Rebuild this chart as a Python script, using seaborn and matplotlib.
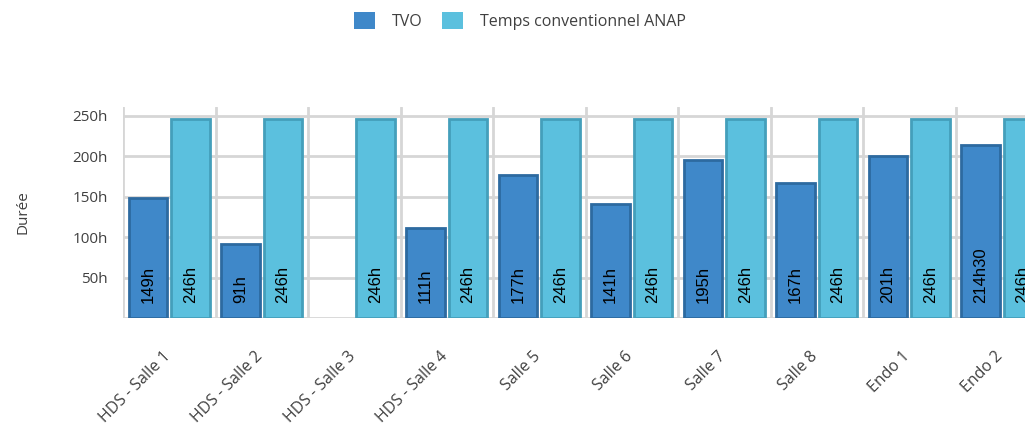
import numpy as np
import pandas as pd
import matplotlib
matplotlib.use('Agg')
import matplotlib.pyplot as plt
import matplotlib.transforms as mtransforms
import seaborn as sns
from matplotlib.patches import Patch

salles = ['HDS - Salle 1', 'HDS - Salle 2', 'HDS - Salle 3', 'HDS - Salle 4',
          'Salle 5', 'Salle 6', 'Salle 7', 'Salle 8', 'Endo 1', 'Endo 2']
tvo = [149, 91, np.nan, 111, 177, 141, 195, 167, 201, 214.5]
tvo_labels = ['149h', '91h', '', '111h', '177h', '141h', '195h', '167h', '201h', '214h30']
anap = [246] * 10
anap_labels = ['246h'] * 10
series = ['TVO', 'Temps conventionnel ANAP']

col_tvo = '#3f88c9'
col_anap = '#5bc0de'
edge_tvo = '#2d6aa0'
edge_anap = '#449fbb'
grid_col = '#d6d6d6'
text_col = '#404040'

df = pd.DataFrame({
    'salle': salles * 2,
    'serie': [series[0]] * 10 + [series[1]] * 10,
    'duree': tvo + anap,
})

sns.set_style('white')
plt.rcParams['font.family'] = ['Open Sans', 'DejaVu Sans']

fig = plt.figure(figsize=(10.25, 4.25), dpi=100)
ax = fig.add_axes([123 / 1025, 107 / 425, 925 / 1025, 211 / 425])

sns.barplot(data=df, x='salle', y='duree', hue='serie', order=salles,
            hue_order=series, palette=[col_tvo, col_anap], saturation=1,
            width=0.92, gap=0.09, linewidth=2, ax=ax, legend=False,
            errorbar=None, zorder=3)

# contours plus sombres
for cont, ec in zip(ax.containers, [edge_tvo, edge_anap]):
    for bar in cont:
        bar.set_edgecolor(ec)

# étiquettes verticales en bas des barres
labels_by_serie = [tvo_labels, anap_labels]
for k, cont in enumerate(ax.containers):
    for bar in cont:
        h = bar.get_height()
        if not np.isfinite(h) or h == 0:
            continue
        i = int(round(bar.get_x() + bar.get_width() / 2))
        ax.text(bar.get_x() + bar.get_width() / 2, 19, labels_by_serie[k][i],
                rotation=90, ha='center', va='bottom', fontsize=12,
                family=['Liberation Sans', 'DejaVu Sans'], color='black',
                zorder=5)

ax.set_xlim(-0.5, 9.5)
ax.set_ylim(0, 261)
ax.set_yticks([0, 50, 100, 150, 200, 250])
ax.set_yticklabels(['', '50h', '100h', '150h', '200h', '250h'])
ax.set_xticks(np.arange(-0.5, 10, 1), minor=True)
ax.grid(axis='y', which='major', color=grid_col, linewidth=2, zorder=0)
ax.grid(axis='x', which='minor', color=grid_col, linewidth=2, zorder=0)
ax.grid(axis='x', which='major', visible=False)
for s in ax.spines.values():
    s.set_visible(False)

ax.tick_params(axis='y', length=7, width=2, color=grid_col, labelsize=11,
               labelcolor=text_col, pad=4)
ax.tick_params(axis='x', which='major', length=0, labelsize=11.5,
               labelcolor=text_col, pad=22)
ax.tick_params(axis='x', which='minor', length=0)
shift = mtransforms.ScaledTranslation(-7 / 100, 0, fig.dpi_scale_trans)
for lab in ax.get_xticklabels():
    lab.set_rotation(45)
    lab.set_ha('right')
    lab.set_rotation_mode('anchor')
    lab.set_transform(lab.get_transform() + shift)

ax.set_xlabel('')
ax.set_ylabel('Durée', fontsize=11, color=text_col, labelpad=30)

handles = [Patch(facecolor=col_tvo, edgecolor='none'),
           Patch(facecolor=col_anap, edgecolor='none')]
fig.legend(handles, series, loc='center', bbox_to_anchor=(520 / 1025, 1 - 21 / 425),
           ncol=2, frameon=False, fontsize=11.5, handlelength=1.3, handleheight=1.3,
           columnspacing=1.25, handletextpad=1.05, labelcolor=text_col)

fig.savefig('out.png', dpi=100)
